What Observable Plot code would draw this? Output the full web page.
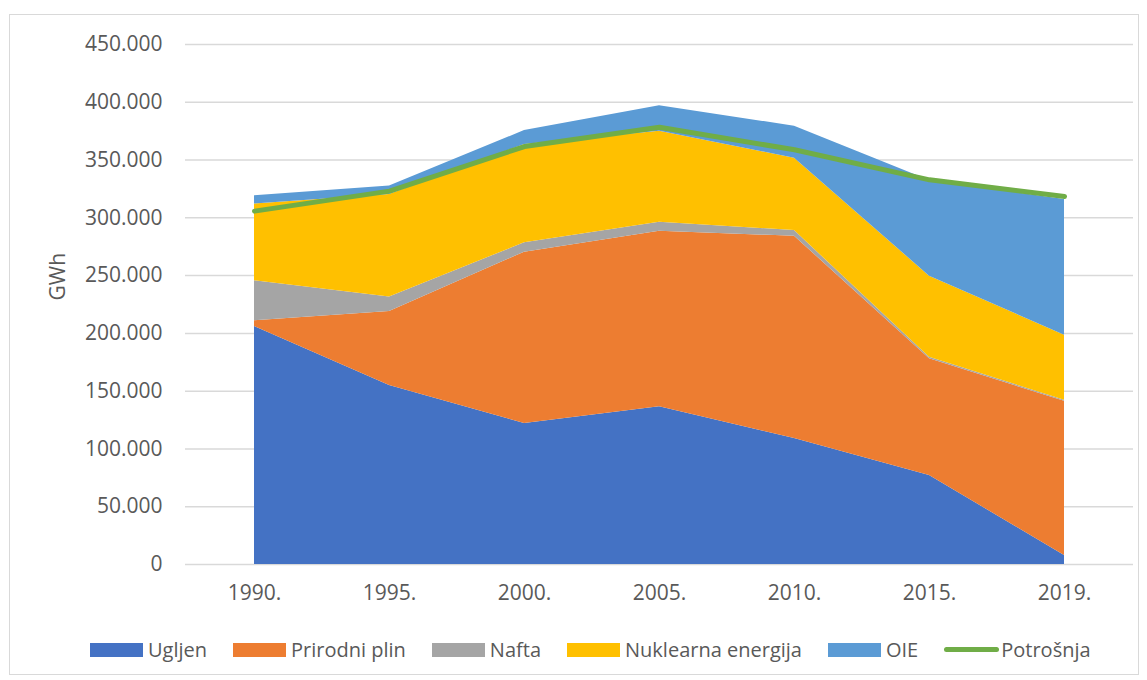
<!DOCTYPE html>
<html>
<head>
<meta charset="utf-8">
<script src="https://cdn.jsdelivr.net/npm/d3@7"></script>
<script src="https://cdn.jsdelivr.net/npm/@observablehq/plot@0.6"></script>
<style>
  html, body { margin: 0; padding: 0; background: #fff; }
  body { width: 1147px; height: 680px; position: relative; overflow: hidden; font-family: "Open Sans", sans-serif; }
  #frame { position: absolute; left: 9px; top: 14px; width: 1130px; height: 661px; border: 1px solid #d9d9d9; box-sizing: border-box; }
  #chart { position: absolute; left: 0; top: 0; }
  #legend { position: absolute; left: 90px; top: 636px; display: flex; align-items: center; font-size: 20px; color: #595959; white-space: nowrap; }
  .item { display: flex; align-items: center; margin-right: 26px; }
  .sw { width: 53px; height: 14px; margin-right: 5px; }
  .ln { width: 55px; height: 5px; border-radius: 3px; margin-right: 2px; }
</style>
</head>
<body>
<div id="frame"></div>
<div id="chart"></div>
<div id="legend"></div>
<script>
const years = ["1990.", "1995.", "2000.", "2005.", "2010.", "2015.", "2019."];
const seriesNames = ["Ugljen", "Prirodni plin", "Nafta", "Nuklearna energija", "OIE"];
const seriesColors = ["#4472c4", "#ed7d31", "#a5a5a5", "#ffc000", "#5b9bd5"];
const ugljen = [206000, 155000, 122000, 136500, 109000, 77000, 7800];
const prirodniPlin = [5000, 64000, 148300, 151800, 175100, 101000, 133500];
const nafta = [34600, 12400, 8100, 7800, 4900, 1400, 800];
const nuklearna = [66300, 88900, 85000, 78800, 62600, 70100, 56300];
const oie = [7200, 7200, 12100, 22200, 27700, 82800, 117400];
const potrosnja = [305800, 323100, 361700, 378400, 358900, 332900, 318500];
const potrosnjaName = "Potrošnja";
const potrosnjaColor = "#70ad47";
const yTicks = [0, 50000, 100000, 150000, 200000, 250000, 300000, 350000, 400000, 450000];
const yLabel = "GWh";

const seriesValues = [ugljen, prirodniPlin, nafta, nuklearna, oie];
const rows = [];
years.forEach((yr, i) => {
  seriesNames.forEach((s, j) => rows.push({year: yr, series: s, value: seriesValues[j][i]}));
});
const lineRows = years.map((yr, i) => ({year: yr, value: potrosnja[i]}));

const locale = d3.formatLocale({decimal: ",", thousands: ".", grouping: [3], currency: ["", ""]});
const fmt = locale.format(",");

const chart = Plot.plot({
  width: 1147,
  height: 620,
  marginLeft: 185,
  marginRight: 14,
  marginTop: 44,
  marginBottom: 56,
  style: {fontFamily: "Open Sans, sans-serif", fontSize: "20px", color: "#595959", background: "transparent"},
  x: {type: "point", domain: years, padding: 0.5},
  y: {domain: [0, 450000]},
  color: {domain: seriesNames, range: seriesColors},
  marks: [
    Plot.gridY(yTicks, {stroke: "#d9d9d9", strokeOpacity: 1, strokeWidth: 1.5}),
    Plot.areaY(rows, {x: "year", y: "value", fill: "series", z: "series"}),
    Plot.line(lineRows, {x: "year", y: "value", stroke: potrosnjaColor, strokeWidth: 5, strokeLinecap: "round", strokeLinejoin: "round"}),
    Plot.axisY(yTicks, {tickSize: 0, tickPadding: 23, tickFormat: fmt, label: null, fontSize: 21}),
    Plot.axisX({tickSize: 0, tickPadding: 21, label: null, fontSize: 21}),
    Plot.text([yLabel], {frameAnchor: "left", dx: -127, dy: -4, rotate: -90, fontSize: 21})
  ]
});
document.getElementById("chart").appendChild(chart);

const legend = document.getElementById("legend");
seriesNames.forEach((s, j) => {
  const it = document.createElement("div");
  it.className = "item";
  it.innerHTML = `<div class="sw" style="background:${seriesColors[j]}"></div><span>${s}</span>`;
  legend.appendChild(it);
});
const it = document.createElement("div");
it.className = "item";
it.innerHTML = `<div class="ln" style="background:${potrosnjaColor}"></div><span>${potrosnjaName}</span>`;
legend.appendChild(it);
</script>
</body>
</html>
